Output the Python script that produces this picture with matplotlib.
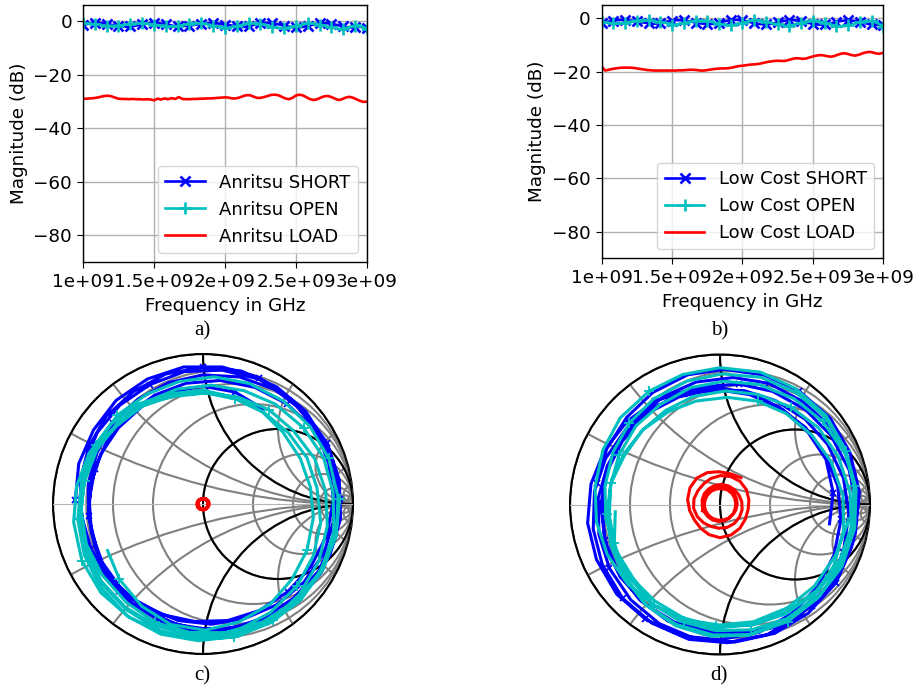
import numpy as np
import matplotlib
matplotlib.use('Agg')
import matplotlib.pyplot as plt
from matplotlib.patches import Circle

plt.rcParams['font.family'] = 'DejaVu Sans'
plt.rcParams['font.size'] = 13.2
plt.rcParams['axes.linewidth'] = 1.0
plt.rcParams['grid.linewidth'] = 1.0
plt.rcParams['xtick.major.size'] = 4.4
plt.rcParams['ytick.major.size'] = 4.4

# frequency grids (GHz): SHORT/OPEN sweep 121 pts, LOAD sweep 81 pts
freq_ghz = np.linspace(1.0, 3.0, 121)
freq_load_ghz = np.linspace(1.0, 3.0, 81)

xticks = [1e9, 1.5e9, 2e9, 2.5e9, 3e9]
xtick_labels = ['1e+09', '1.5e+09', '2e+09', '2.5e+09', '3e+09']
yticks = [0, -20, -40, -60, -80]

# ---- Anritsu kit ----
short_a_db = [-1.4, -1.2, -1.1, -0.9, -0.8, -0.7, -0.7, -0.7, -0.8, -0.9, -1.1, -1.2,
              -1.4, -1.6, -1.8, -1.9, -2.0, -2.1,
              -2.1, -2.1, -2.0, -1.9, -1.8, -1.6, -1.4, -1.2, -1.1, -0.9, -0.8, -0.7,
              -0.7, -0.7, -0.8, -0.9, -1.1, -1.2, -1.4, -1.6, -1.8, -1.9, -2.0, -2.1,
              -1.9, -1.8, -1.8, -1.7, -1.6, -1.4, -1.3, -1.2, -1.0, -0.9, -0.8, -0.8,
              -0.8, -0.8, -0.8, -0.9, -1.0, -1.2, -1.3, -1.4, -1.6, -1.7, -1.8, -1.8,
              -2.3, -2.3, -2.2, -2.1, -1.9, -1.7, -1.5, -1.3, -1.1, -0.9, -0.8, -0.7,
              -0.7, -0.7, -0.8, -0.9, -1.1, -1.3, -1.5, -1.7, -1.9, -2.1, -2.2, -2.3,
              -2.4, -2.4, -2.3, -2.2, -2.0, -1.8, -1.6, -1.4, -1.2, -1.0, -0.9, -0.8,
              -0.8, -0.8, -0.9, -1.0, -1.2, -1.4, -1.6, -1.8, -2.0, -2.2, -2.3, -2.4,
              -2.4, -2.4, -2.3, -2.2, -2.1, -2.2, -2.5]
open_a_db = [-0.8, -0.8, -0.9, -1.0, -1.1, -1.2, -1.3, -1.4, -1.6, -1.7, -1.7, -1.8,
             -1.8, -1.8, -1.7, -1.7, -1.6, -1.4, -1.3, -1.2, -1.1, -1.0, -0.9, -0.8,
             -0.8, -0.8, -0.9, -1.0, -1.1, -1.2, -1.3, -1.4, -1.6, -1.7, -1.7, -1.8,
             -2.2, -2.2, -2.1, -2.0, -1.9, -1.7, -1.5, -1.3, -1.2, -1.0, -0.9, -0.8,
             -0.8, -0.8, -0.9, -1.0, -1.2, -1.3, -1.5, -1.7, -1.9, -2.0, -2.1, -2.2,
             -2.6, -2.6, -2.5, -2.3, -2.2, -1.9, -1.7, -1.5, -1.3, -1.1, -0.9, -0.8,
             -0.8, -0.8, -0.9, -1.1, -1.3, -1.5, -1.7, -1.9, -2.2, -2.3, -2.5, -2.6,
             -2.7, -2.7, -2.6, -2.4, -2.3, -2.0, -1.8, -1.6, -1.4, -1.2, -1.0, -0.9,
             -0.9, -0.9, -1.0, -1.2, -1.4, -1.6, -1.8, -2.0, -2.3, -2.4, -2.6, -2.7,
             -2.9, -2.9, -2.8, -2.6, -2.4, -2.2, -1.9, -1.7, -1.5, -1.6, -2.0, -2.5,
             -3.0]
load_a_db = [-29.0, -29.0, -28.9, -28.8, -28.6, -28.3, -28.0, -27.9, -28.1, -28.6,
             -29.0, -29.1, -29.1, -29.2, -29.1, -29.2, -29.2, -29.3, -29.2, -29.3,
             -29.6, -29.0, -29.3, -28.9, -29.2, -28.8, -29.1, -28.4, -29.1, -29.2,
             -29.2, -29.1, -29.1, -29.0, -29.0, -28.9, -28.9, -28.8, -28.7, -28.6,
             -28.5, -28.6, -28.9, -28.9, -28.6, -28.1, -27.7, -27.7, -28.2, -28.7,
             -28.7, -28.4, -28.0, -27.6, -27.5, -27.7, -28.3, -28.9, -29.2, -28.7,
             -27.8, -27.5, -27.8, -28.5, -29.2, -29.5, -29.2, -28.6, -28.1, -28.0,
             -28.4, -29.0, -29.5, -29.2, -28.6, -28.3, -28.6, -29.2, -29.8, -30.2,
             -30.1]
# phases in degrees (unwrapped)
short_a_deg = [178, 162, 146, 130, 114, 98, 82, 66, 50, 34, 18,
               2, -14, -30, -46, -62, -78, -94, -110, -126, -142, -158,
               -174, -190, -206, -222, -238, -254, -270, -286, -302, -318, -334,
               -350, -366, -382, -398, -414, -430, -446, -462, -478, -494, -510,
               -526, -542, -558, -574, -590, -606, -622, -638, -654, -670, -686,
               -702, -718, -734, -750, -766, -782, -798, -814, -830, -846, -862,
               -878, -894, -910, -926, -942, -958, -974, -990, -1006, -1022, -1038,
               -1054, -1070, -1086, -1102, -1118, -1134, -1150, -1166, -1182, -1198, -1214,
               -1230, -1246, -1262, -1278, -1294, -1310, -1326, -1342, -1358, -1374, -1390,
               -1406, -1422, -1438, -1454, -1470, -1486, -1502, -1518, -1534, -1550, -1566,
               -1582, -1598, -1614, -1630, -1646, -1662, -1678, -1694, -1710, -1726, -1742]
open_a_deg = [2, -14, -31, -47, -63, -80, -96, -112, -128, -145, -161,
              -177, -194, -210, -226, -243, -259, -275, -291, -308, -324, -340,
              -357, -373, -389, -406, -422, -438, -454, -471, -487, -503, -520,
              -536, -552, -569, -585, -601, -617, -634, -650, -666, -683, -699,
              -715, -732, -748, -764, -780, -797, -813, -829, -846, -862, -878,
              -895, -911, -927, -943, -960, -976, -992, -1009, -1025, -1041, -1058,
              -1074, -1090, -1106, -1123, -1139, -1155, -1172, -1188, -1204, -1221, -1237,
              -1253, -1269, -1286, -1302, -1318, -1335, -1351, -1367, -1384, -1400, -1416,
              -1432, -1449, -1465, -1481, -1498, -1514, -1530, -1547, -1563, -1579, -1595,
              -1612, -1628, -1644, -1661, -1677, -1693, -1710, -1726, -1742, -1758, -1775,
              -1791, -1807, -1824, -1840, -1856, -1873, -1889, -1905, -1921, -1938, -1954]
load_a_deg = [60, 39, 18, -3, -24, -45, -66, -87, -108, -129,
              -150, -171, -192, -213, -234, -255, -276, -297, -318, -339,
              -360, -381, -402, -423, -444, -465, -486, -507, -528, -549,
              -570, -591, -612, -633, -654, -675, -696, -717, -738, -759,
              -780, -801, -822, -843, -864, -885, -906, -927, -948, -969,
              -990, -1011, -1032, -1053, -1074, -1095, -1116, -1137, -1158, -1179,
              -1200, -1221, -1242, -1263, -1284, -1305, -1326, -1347, -1368, -1389,
              -1410, -1431, -1452, -1473, -1494, -1515, -1536, -1557, -1578, -1599,
              -1620]

# ---- Low cost kit ----
short_b_db = [-1.6, -1.5, -1.4, -1.2, -1.0, -0.9, -0.8, -0.7, -0.6, -0.6, -0.6,
              -0.7, -0.8, -0.9, -1.0, -1.2, -1.4, -1.5, -1.6, -1.7, -1.8,
              -2.1, -2.1, -2.0, -1.9, -1.8, -1.6, -1.4, -1.2, -1.1, -0.9, -0.8, -0.7,
              -0.7, -0.7, -0.8, -0.9, -1.1, -1.2, -1.4, -1.6, -1.8, -1.9, -2.0, -2.1,
              -2.2, -2.2, -2.1, -2.0, -1.8, -1.6, -1.4, -1.2, -1.0, -0.8, -0.7, -0.6,
              -0.6, -0.6, -0.7, -0.8, -1.0, -1.2, -1.4, -1.6, -1.8, -2.0, -2.1, -2.2,
              -2.3, -2.3, -2.2, -2.1, -1.9, -1.7, -1.5, -1.3, -1.1, -0.9, -0.8, -0.7,
              -0.7, -0.7, -0.8, -0.9, -1.1, -1.3, -1.5, -1.7, -1.9, -2.1, -2.2, -2.3,
              -2.4, -2.4, -2.3, -2.2, -2.0, -1.8, -1.6, -1.4, -1.2, -1.0, -0.9, -0.8,
              -0.8, -0.8, -0.9, -1.0, -1.2, -1.4, -1.6, -1.8, -2.0, -2.2, -2.3, -2.4,
              -2.4, -2.3, -2.4, -2.6]
open_b_db = [-1.3, -1.5, -1.6, -1.7, -1.8, -1.9,
             -1.9, -1.9, -1.8, -1.7, -1.6, -1.5, -1.3, -1.1, -1.0, -0.9, -0.8, -0.7,
             -0.7, -0.7, -0.8, -0.9, -1.0, -1.1, -1.3, -1.5, -1.6, -1.7, -1.8, -1.9,
             -2.4, -2.4, -2.3, -2.2, -2.0, -1.8, -1.6, -1.4, -1.2, -1.0, -0.9, -0.8,
             -0.8, -0.8, -0.9, -1.0, -1.2, -1.4, -1.6, -1.8, -2.0, -2.2, -2.3, -2.4,
             -2.6, -2.6, -2.5, -2.3, -2.2, -1.9, -1.7, -1.5, -1.3, -1.1, -0.9, -0.8,
             -0.8, -0.8, -0.9, -1.1, -1.3, -1.5, -1.7, -1.9, -2.2, -2.3, -2.5, -2.6,
             -2.9, -2.9, -2.8, -2.6, -2.4, -2.2, -1.9, -1.6, -1.4, -1.2, -1.0, -0.9,
             -0.9, -0.9, -1.0, -1.2, -1.4, -1.6, -1.9, -2.2, -2.4, -2.6, -2.8, -2.9,
             -3.0, -3.0, -2.9, -2.7, -2.5, -2.3, -2.0, -1.7, -1.5, -1.3, -1.1, -1.0,
             -1.0, -1.1, -1.3, -1.6, -2.0, -2.5, -3.1]
load_b_db = [-18.1, -19.6, -19.3, -19.0, -18.8, -18.6, -18.5, -18.5, -18.5, -18.6,
             -18.8, -19.0, -19.2, -19.4, -19.5, -19.6, -19.6, -19.6, -19.6, -19.6,
             -19.6, -19.6, -19.5, -19.5, -19.4, -19.3, -19.3, -19.4, -19.6, -19.6,
             -19.4, -19.2, -19.0, -18.9, -18.8, -18.8, -18.7, -18.5, -18.2, -17.9,
             -17.8, -17.6, -17.4, -17.3, -17.2, -17.0, -16.7, -16.4, -16.2, -16.0,
             -15.9, -16.0, -16.0, -15.7, -15.3, -15.0, -15.0, -15.2, -15.1, -14.7,
             -14.3, -14.0, -13.8, -13.9, -14.2, -14.4, -14.2, -13.7, -13.3, -13.1,
             -13.4, -13.8, -14.0, -13.7, -13.2, -12.8, -12.6, -12.8, -13.2, -13.3,
             -12.9]
short_b_deg = [170, 154, 137, 121, 104, 88, 71, 55, 38, 22, 5,
               -12, -28, -45, -61, -78, -94, -111, -127, -144, -160, -177,
               -193, -210, -226, -243, -259, -276, -292, -309, -325, -342, -358,
               -375, -391, -408, -424, -441, -457, -474, -490, -507, -523, -540,
               -556, -573, -589, -606, -622, -639, -655, -672, -688, -705, -721,
               -738, -754, -771, -787, -804, -820, -837, -853, -870, -886, -903,
               -919, -936, -952, -969, -985, -1002, -1018, -1035, -1051, -1068, -1084,
               -1101, -1117, -1134, -1150, -1167, -1183, -1200, -1216, -1233, -1249, -1266,
               -1282, -1299, -1315, -1332, -1348, -1365, -1381, -1398, -1414, -1431, -1447,
               -1464, -1480, -1497, -1513, -1530, -1546, -1563, -1579, -1596, -1612, -1629,
               -1645, -1662, -1678, -1695, -1711, -1728, -1744, -1761, -1777, -1794, -1810]
open_b_deg = [-8, -24, -41, -57, -74, -90, -106, -123, -139, -156, -172,
              -188, -205, -221, -238, -254, -270, -287, -303, -320, -336, -352,
              -369, -385, -402, -418, -434, -451, -467, -484, -500, -516, -533,
              -549, -566, -582, -598, -615, -631, -648, -664, -680, -697, -713,
              -730, -746, -762, -779, -795, -812, -828, -844, -861, -877, -894,
              -910, -926, -943, -959, -976, -992, -1008, -1025, -1041, -1058, -1074,
              -1090, -1107, -1123, -1140, -1156, -1172, -1189, -1205, -1222, -1238, -1254,
              -1271, -1287, -1304, -1320, -1336, -1353, -1369, -1386, -1402, -1418, -1435,
              -1451, -1468, -1484, -1500, -1517, -1533, -1550, -1566, -1582, -1599, -1615,
              -1632, -1648, -1664, -1681, -1697, -1714, -1730, -1746, -1763, -1779, -1796,
              -1812, -1828, -1845, -1861, -1878, -1894, -1910, -1927, -1943, -1960, -1976]
load_b_deg = [200, 180, 160, 140, 121, 101, 81, 61, 41, 21,
              1, -19, -38, -58, -78, -98, -118, -138, -158, -177,
              -197, -217, -237, -257, -277, -297, -316, -336, -356, -376,
              -396, -416, -436, -455, -475, -495, -515, -535, -555, -575,
              -594, -614, -634, -654, -674, -694, -713, -733, -753, -773,
              -793, -813, -833, -852, -872, -892, -912, -932, -952, -971,
              -991, -1011, -1031, -1051, -1071, -1090, -1110, -1130, -1150, -1170,
              -1190, -1209, -1229, -1249, -1269, -1289, -1309, -1328, -1348, -1368,
              -1388]


def to_gamma(mag_db, phase_deg):
    return 10 ** (np.array(mag_db) / 20.0) * np.exp(1j * np.deg2rad(phase_deg))


def magnitude_plot(ax, short, opn, load, kit, ylim):
    f = freq_ghz * 1e9
    f_load = freq_load_ghz * 1e9
    ax.plot(f, short, color='b', marker='x', markevery=5, lw=1.9,
            ms=7.5, mew=1.9, label=kit + ' SHORT')
    ax.plot(f, opn, color='c', marker='+', markevery=5, lw=1.9,
            ms=9, mew=1.9, label=kit + ' OPEN')
    ax.plot(f_load, load, color='r', lw=1.9, label=kit + ' LOAD')
    ax.set_xlim(1e9, 3e9)
    ax.set_ylim(ylim)
    ax.set_xticks(xticks)
    ax.set_xticklabels(xtick_labels)
    ax.set_yticks(yticks)
    ax.grid(True)
    ax.set_xlabel('Frequency in GHz')
    ax.set_ylabel('Magnitude (dB)')
    ax.legend(loc='lower right', labelspacing=0.5, handlelength=2.2, fontsize=13)


def smith_chart(ax):
    # same contour set as skrf's smith()
    clipc = Circle((0, 0), 1, ec='k', fc='none', lw=1.5)
    ax.add_patch(clipc)
    r_light = [0.125, 0.25, 0.5, 1, 2, 4, 8, 16, 32]
    x_light = [0.25, 0.5, 1, 2, 4, 8, 16, 32, -0.25, -0.5, -1, -2, -4, -8, -16, -32]
    contour = []
    for r in r_light:
        contour.append(Circle((r / (1 + r), 0), 1 / (1 + r), ec='grey', fc='none', lw=1.5))
    for x in x_light:
        contour.append(Circle((1, 1 / x), abs(1 / x), ec='grey', fc='none', lw=1.5))
    for r in [0, 1]:
        contour.append(Circle((r / (1 + r), 0), 1 / (1 + r), ec='black', fc='none', lw=1.5))
    for x in [1, -1]:
        contour.append(Circle((1, 1 / x), abs(1 / x), ec='black', fc='none', lw=1.5))
    for c in contour:
        ax.add_patch(c)
        c.set_clip_path(clipc)
    ax.axhline(0, color='0.7', lw=0.8, clip_path=clipc)
    ax.set_xlim(-1.1, 1.1)
    ax.set_ylim(-1.1, 1.1)
    ax.set_aspect('equal')
    ax.axis('off')


def smith_plot(ax, short, opn, load):
    smith_chart(ax)
    ax.plot(short.real, short.imag, color='b', marker='x', markevery=7, lw=2.2, ms=5, mew=1.3)
    ax.plot(opn.real, opn.imag, color='c', marker='+', markevery=7, lw=2.2, ms=7, mew=1.3)
    ax.plot(load.real, load.imag, color='r', lw=2.2)


fig = plt.figure(figsize=(9.19, 6.90), dpi=100)

ax_a = fig.add_axes([0.0903, 0.6203, 0.3090, 0.3725])
magnitude_plot(ax_a, short_a_db, open_a_db, load_a_db, 'Anritsu', (-90, 6))

ax_b = fig.add_axes([0.6547, 0.6257, 0.3064, 0.3671])
magnitude_plot(ax_b, short_b_db, open_b_db, load_b_db, 'Low Cost', (-90, 5))

ax_c = fig.add_axes([0.04135, 0.03043, 0.35909, 0.47826])
smith_plot(ax_c, to_gamma(short_a_db, short_a_deg), to_gamma(open_a_db, open_a_deg),
           to_gamma(load_a_db, load_a_deg))

ax_d = fig.add_axes([0.60392, 0.02971, 0.35909, 0.47826])
smith_plot(ax_d, to_gamma(short_b_db, short_b_deg), to_gamma(open_b_db, open_b_deg),
           to_gamma(load_b_db, load_b_deg))

# sub-figure captions
cap = dict(ha='center', va='center', family='Liberation Serif', size=15)
fig.text(202 / 919, 1 - 331 / 690, 'a)', **cap)
fig.text(720 / 919, 1 - 331 / 690, 'b)', **cap)
fig.text(202 / 919, 1 - 676 / 690, 'c)', **cap)
fig.text(719 / 919, 1 - 676 / 690, 'd)', **cap)

fig.savefig('out.png', dpi=100)
